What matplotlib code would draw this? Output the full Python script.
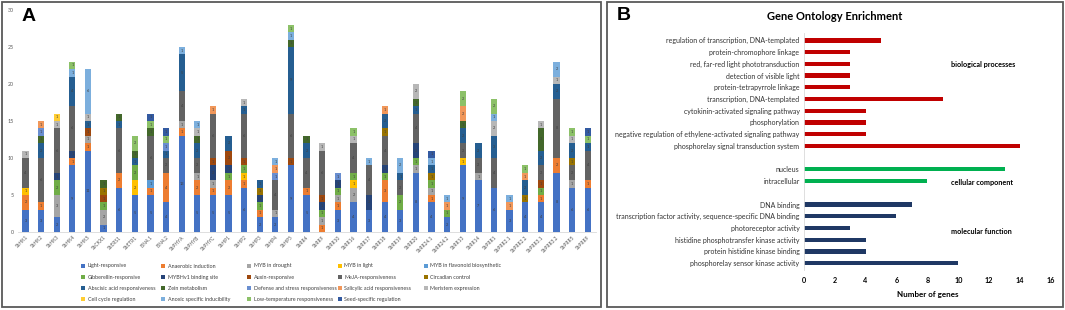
import matplotlib
matplotlib.use("Agg")
import matplotlib.pyplot as plt
from matplotlib.patches import Rectangle, Patch
import numpy as np

plt.rcParams['font.family'] = ['Lato', 'DejaVu Sans']

# ---------------- Panel A data ----------------
genes = ["SbHK1", "SbHK2", "SbHK3", "SbHK4", "SbHK5", "SbCKX1", "SbERS1", "SbETR1",
         "EIN4.1", "EIN4.2", "SbPHYA", "SbPHYB", "SbPHYC", "SbHP1", "SbHP2", "SbHP3",
         "SbHP4", "SbHP5", "SbRR4", "SbRR9", "SbRR10", "SbRR16", "SbRR17", "SbRR18",
         "SbRR19", "SbRR20", "SbRR24.1", "SbRR24.2", "SbRR13", "SbRR14", "SbPRR1",
         "SbPRR2.1", "SbPRR2.2", "SbPRR3.1", "SbPRR3.2", "SbPRR5", "SbPRR9"]

categories = ["Light-responsive", "Anaerobic induction", "MYB in drought", "MYB in light",
              "MYB in flavonoid biosynthetic", "Gibberellin-responsive", "MYBHv1 binding site",
              "Auxin-responsive", "MeJA-responsiveness", "Circadian control",
              "Abscisic acid responsiveness", "Zein metabolism",
              "Defense and stress responsiveness", "Salicylic acid responsiveness",
              "Meristem expression", "Cell cycle regulation", "Anoxic specific inducibility",
              "Low-temperature responsiveness", "Seed-specific regulation"]

light_responsive = [3,3,2,9,11, 1,6,5,5,4, 13,5,5,5,6, 2,2,9,5,0, 3,4,3,4,3, 8,4,2,9,7, 6,3,4,4,8, 6,6]
anaerobic        = [2,1,0,1,1, 0,2,0,1,4, 1,2,1,2,1, 1,0,0,1,1, 1,0,0,3,0, 0,1,0,0,0, 0,0,0,1,2, 0,1]
myb_drought      = [0,0,3,0,1, 2,0,0,0,0, 1,1,1,0,0, 0,1,0,0,1, 1,2,0,0,0, 1,1,0,0,1, 0,0,0,0,0, 1,0]
myb_light        = [1,0,0,0,0, 0,0,2,0,0, 0,0,0,0,1, 0,0,0,0,0, 0,1,0,0,0, 0,0,0,1,0, 0,0,0,0,0, 0,0]
myb_flavonoid    = [0,0,0,0,0, 0,0,0,1,0, 0,0,0,0,0, 0,0,0,0,0, 0,0,0,0,0, 0,0,0,0,0, 0,0,0,0,0, 0,0]
gibberellin      = [0,0,2,0,0, 1,0,2,0,0, 0,0,0,1,1, 1,0,0,0,1, 1,1,0,1,2, 1,1,1,0,0, 0,0,0,1,0, 0,0]
mybhv1           = [0,0,1,1,0, 0,0,0,0,0, 0,0,2,1,0, 1,0,0,0,1, 1,0,2,1,0, 2,0,0,0,0, 0,0,0,0,0, 0,0]
auxin            = [0,0,0,0,1, 1,0,0,0,0, 0,0,1,2,1, 0,0,1,0,1, 0,0,0,0,0, 0,0,0,0,0, 0,0,0,1,0, 0,0]
meja             = [4,6,6,6,0, 0,6,0,6,2, 4,2,6,0,6, 0,4,6,4,6, 0,4,4,4,2, 4,0,0,2,2, 4,0,0,2,8, 2,4]
circadian        = [0,0,0,0,0, 1,0,0,0,0, 0,0,0,0,0, 1,0,0,0,0, 0,0,0,1,0, 0,1,0,0,0, 0,0,1,0,0, 1,0]
abscisic         = [0,2,0,4,1, 0,1,1,0,1, 5,2,0,2,1, 1,0,9,2,0, 0,0,0,2,1, 1,1,0,2,2, 3,0,2,2,2, 2,1]
zein             = [0,1,0,0,0, 1,1,1,1,0, 0,1,0,0,0, 0,0,1,1,0, 0,0,0,0,0, 1,0,0,1,0, 0,0,0,3,0, 0,0]
defense          = [0,1,0,0,0, 0,0,0,0,1, 0,0,0,0,0, 0,1,0,0,0, 1,0,0,0,0, 0,0,0,0,0, 0,0,0,0,0, 0,0]
salicylic        = [0,1,0,0,0, 0,0,0,0,0, 0,0,1,0,0, 0,1,0,0,0, 0,0,0,1,0, 0,0,1,2,0, 0,1,1,0,0, 0,0]
meristem         = [1,0,1,0,1, 0,0,0,0,0, 0,1,0,0,1, 0,0,0,0,1, 0,1,0,0,0, 2,0,0,0,0, 2,0,0,1,1, 1,0]
cell_cycle       = [0,0,1,0,0, 0,0,0,0,0, 0,0,0,0,0, 0,0,0,0,0, 0,0,0,0,0, 0,0,0,0,0, 0,0,0,0,0, 0,0]
anoxic           = [0,0,0,1,6, 0,0,0,0,0, 1,1,0,0,0, 0,1,1,0,0, 0,0,1,0,2, 0,1,1,0,0, 1,1,0,0,2, 0,0]
low_temp         = [0,0,0,1,0, 0,0,2,1,1, 0,0,0,0,0, 0,0,1,0,0, 0,1,0,0,0, 0,0,0,2,0, 2,0,1,0,0, 1,1]
seed_specific    = [0,0,0,0,0, 0,0,0,1,1, 0,0,0,0,0, 0,0,0,0,0, 0,0,0,0,0, 0,1,0,0,0, 0,0,0,0,0, 0,1]

series = [light_responsive, anaerobic, myb_drought, myb_light, myb_flavonoid, gibberellin,
          mybhv1, auxin, meja, circadian, abscisic, zein, defense, salicylic, meristem,
          cell_cycle, anoxic, low_temp, seed_specific]

colors = ["#4472C4", "#ED7D31", "#A5A5A5", "#FFC000", "#5B9BD5", "#70AD47", "#264478",
          "#9E480E", "#636363", "#997300", "#255E91", "#43682B", "#698ED0", "#F1975A",
          "#B7B7B7", "#FFCD33", "#7CAFDD", "#8CC168", "#335AA1"]

# ---------------- Panel B data ----------------
go_terms = ["regulation of transcription, DNA-templated", "protein-chromophore linkage",
            "red, far-red light phototransduction", "detection of visible light",
            "protein-tetrapyrrole linkage", "transcription, DNA-templated",
            "cytokinin-activated signaling pathway", "phosphorylation",
            "negative regulation of ethylene-activated signaling pathway",
            "phosphorelay signal transduction system",
            "nucleus", "intracellular",
            "DNA binding", "transcription factor activity, sequence-specific DNA binding",
            "photoreceptor activity", "histidine phosphotransfer kinase activity",
            "protein histidine kinase binding", "phosphorelay sensor kinase activity"]
go_counts = [5, 3, 3, 3, 3, 9, 4, 4, 4, 14, 13, 8, 7, 6, 3, 4, 4, 10]
go_groups = ["BP"] * 10 + ["CC"] * 2 + ["MF"] * 6
group_colors = {"BP": "#C00000", "CC": "#00B050", "MF": "#1F3864"}
group_names = {"BP": "biological processes", "CC": "cellular component", "MF": "molecular function"}

W, H = 1065, 310
fig = plt.figure(figsize=(W / 100, H / 100), dpi=100)

def fx(px):
    return px / W

def fy(py):
    return 1 - py / H

# panel borders
for (x0, x1) in [(1.5, 601), (607, 1063)]:
    fig.patches.append(Rectangle((fx(x0), fy(307)), fx(x1) - fx(x0), fy(1.5) - fy(307),
                                 transform=fig.transFigure, fill=False,
                                 edgecolor="#595959", linewidth=1.3, zorder=10))

# ---------------- Panel A ----------------
axA = fig.add_axes([fx(17.7), fy(232), fx(595.5) - fx(17.7), fy(10) - fy(232)])
x = np.arange(len(genes))
bottom = np.zeros(len(genes))
handles = []
for name, vals, col in zip(categories, series, colors):
    vals = np.array(vals, dtype=float)
    axA.bar(x, vals, 0.4, bottom=bottom, color=col, label=name, linewidth=0)
    for i, v in enumerate(vals):
        if v > 0:
            axA.text(x[i], bottom[i] + v / 2, f"{int(v)}", ha="center", va="center",
                     fontsize=2.8, color="#404040")
    bottom += vals
    handles.append(Patch(facecolor=col, label=name))

axA.set_xlim(-0.5, len(genes) - 0.5)
axA.set_ylim(0, 30)
axA.set_yticks(range(0, 31, 5))
axA.tick_params(axis="y", length=0, labelsize=3.8, labelcolor="#595959", pad=3)
axA.tick_params(axis="x", length=0, labelsize=3.5, labelcolor="#595959", pad=2)
axA.set_xticks(x)
axA.set_xticklabels(genes, rotation=45, ha="right", rotation_mode="anchor")
for s in ["top", "right", "left"]:
    axA.spines[s].set_visible(False)
axA.spines["bottom"].set_color("#D9D9D9")
axA.spines["bottom"].set_linewidth(0.6)

fig.text(fx(22), fy(21), "A", fontsize=14, fontweight="bold", family=["Liberation Sans", "DejaVu Sans"])

# legend: 5 fixed-width columns, 4 rows (row-major order like the original)
ncol = 5
nrow = 4
col_left = [81, 161, 247, 338, 424]
for c in range(ncol):
    col_handles = [handles[r * ncol + c] for r in range(nrow) if r * ncol + c < len(handles)]
    fig.legend(handles=col_handles, loc="upper left", bbox_to_anchor=(fx(col_left[c]), fy(263.5)),
               ncol=1, frameon=False, fontsize=3.9, handlelength=0.7, handleheight=0.7,
               handletextpad=0.5, labelspacing=1.15, borderaxespad=0, borderpad=0,
               labelcolor="#404040")

# ---------------- Panel B ----------------
axB = fig.add_axes([fx(803.7), fy(270.2), fx(1051) - fx(803.7), fy(33.4) - fy(270.2)])
positions = list(range(0, 10)) + [11, 12] + list(range(14, 20))
for pos, val, g in zip(positions, go_counts, go_groups):
    axB.barh(pos, val, height=0.36, color=group_colors[g], linewidth=0)
axB.set_ylim(19.6, -0.6)
axB.set_xlim(0, 16)
axB.set_yticks(positions)
axB.set_yticklabels(go_terms, fontsize=5.0, color="#333333")
axB.set_xticks(range(0, 17, 2))
axB.tick_params(axis="x", length=0, labelsize=5.2, pad=5)
axB.tick_params(axis="y", length=0, pad=3)
for lbl in axB.get_xticklabels():
    lbl.set_fontweight("bold")
for s in ["top", "right", "bottom"]:
    axB.spines[s].set_visible(False)
axB.spines["left"].set_color("#D9D9D9")
axB.spines["left"].set_linewidth(0.6)
axB.set_xlabel("Number of genes", fontsize=5.8, fontweight="bold", labelpad=5)

axB.text(9.5, 2.05, group_names["BP"], fontsize=5.2, fontweight="bold", va="center")
axB.text(9.5, 12.15, group_names["CC"], fontsize=5.2, fontweight="bold", va="center")
axB.text(9.5, 16.3, group_names["MF"], fontsize=5.2, fontweight="bold", va="center")

fig.text(fx(835), fy(17), "Gene Ontology Enrichment", fontsize=8, fontweight="bold",
         ha="center", va="center")
fig.text(fx(617), fy(20), "B", fontsize=14, fontweight="bold", family=["Liberation Sans", "DejaVu Sans"])

fig.savefig("out.png", dpi=100)
